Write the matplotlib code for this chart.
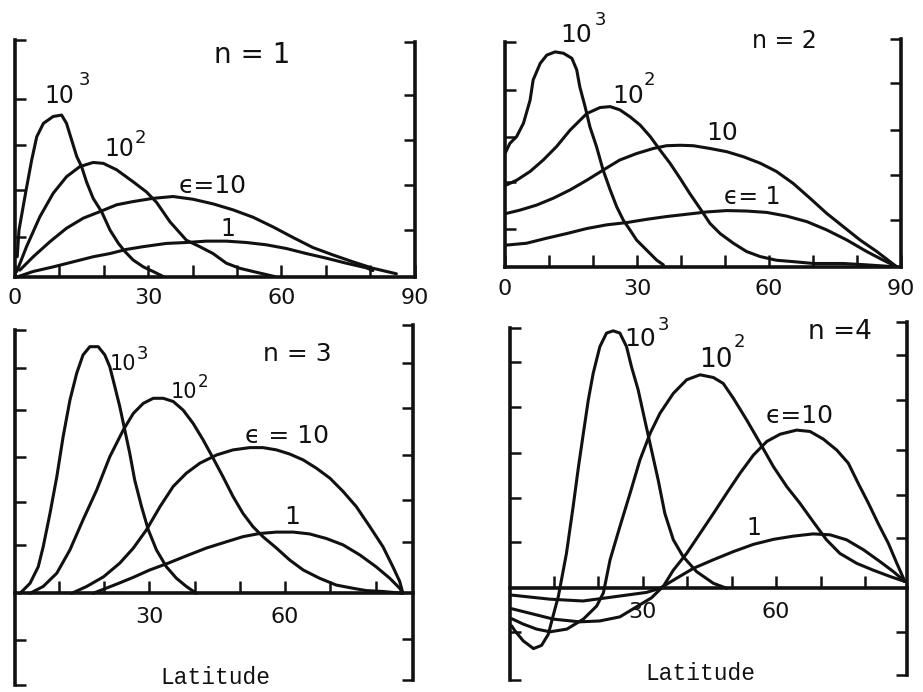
import matplotlib
matplotlib.use("Agg")
import matplotlib.pyplot as plt

plt.rcParams["font.family"] = ["DejaVu Sans"]

W, H, DPI = 923, 692, 100
INK = "#111111"

# ---------------- n = 1 : amplitude vs latitude (deg) ----------------
n1_lat_e1000 = [0.5, 0.9, 2.5, 3.75, 4.9, 6.4, 8.6, 10.5, 11.6, 12.75, 13.9, 15.0, 16.1, 17.6,
                19.5, 21.4, 23.3, 24.8, 26.6, 28.9, 31.1, 33.4]
n1_amp_e1000 = [0.44, 1.02, 1.89, 2.54, 3.05, 3.34, 3.49, 3.52, 3.34, 2.98, 2.62, 2.40, 2.07, 1.71,
                1.42, 1.02, 0.73, 0.55, 0.37, 0.22, 0.12, 0.01]
n1_lat_e100 = [0.4, 2.6, 5.6, 8.6, 11.6, 14.6, 17.6, 19.9, 22.9, 26.6, 29.6, 31.9, 34.9, 38.6,
               41.6, 44.6, 47.6, 50.6, 53.6, 58.5]
n1_amp_e100 = [0.12, 0.66, 1.31, 1.82, 2.18, 2.40, 2.49, 2.47, 2.33, 2.07, 1.85, 1.62, 1.20, 0.80,
               0.66, 0.51, 0.30, 0.19, 0.12, 0.01]
n1_lat_e10 = [1.1, 4.1, 7.9, 11.6, 15.4, 19.1, 22.9, 26.6, 31.1, 35.6, 40.1, 44.6, 49.1, 53.6,
              58.1, 62.6, 67.1, 71.6, 76.1, 80.6, 85.9]
n1_amp_e10 = [0.15, 0.44, 0.77, 1.06, 1.28, 1.42, 1.57, 1.64, 1.71, 1.75, 1.69, 1.59, 1.46, 1.30,
              1.09, 0.86, 0.64, 0.48, 0.33, 0.19, 0.07]
n1_lat_e1 = [0.75, 4.1, 8.6, 13.1, 17.6, 21.4, 25.1, 28.9, 34.1, 38.6, 43.1, 47.6, 52.1, 56.6,
             61.1, 65.6, 70.1, 74.6, 79.1, 80.6]
n1_amp_e1 = [0.01, 0.12, 0.22, 0.33, 0.44, 0.51, 0.60, 0.66, 0.73, 0.75, 0.78, 0.78, 0.75, 0.70,
             0.62, 0.51, 0.41, 0.30, 0.20, 0.14]

# ---------------- n = 2 ----------------
n2_lat_e1000 = [0, 1.1, 2.65, 4.2, 5.7, 6.4, 8.0, 9.5, 11.4, 13.3, 15.2, 16.3, 17.0, 18.2, 19.3,
                20.8, 22.3, 23.9, 25.4, 26.9, 28.4, 29.9, 32.2, 34.5, 36.0]
n2_amp_e1000 = [2.46, 2.68, 2.83, 3.12, 3.62, 4.06, 4.42, 4.60, 4.67, 4.64, 4.53, 4.28, 3.91, 3.48,
                3.04, 2.61, 2.10, 1.67, 1.30, 1.01, 0.80, 0.58, 0.36, 0.14, 0.04]
n2_lat_e100 = [0.4, 2.65, 5.7, 8.7, 11.7, 14.8, 18.6, 21.6, 23.9, 26.1, 28.4, 30.7, 33.0, 35.2,
               37.5, 39.8, 42.0, 44.3, 46.6, 48.9, 51.9, 54.9, 58.0, 61.7, 65.5, 70.1, 76.9,
               82.2, 88.3]
n2_amp_e100 = [1.78, 1.88, 2.07, 2.32, 2.61, 2.97, 3.33, 3.46, 3.48, 3.41, 3.26, 3.08, 2.83, 2.54,
               2.25, 1.92, 1.59, 1.27, 0.94, 0.72, 0.51, 0.33, 0.22, 0.14, 0.11, 0.07, 0.07,
               0.04, 0.0]
n2_lat_e10 = [0.4, 3.4, 7.2, 11.0, 14.8, 18.6, 22.3, 26.1, 29.9, 33.7, 36.7, 39.8, 42.8, 46.6,
              50.4, 54.2, 58.0, 61.7, 65.5, 69.3, 73.1, 76.9, 80.7, 84.5, 87.5, 89.0]
n2_amp_e10 = [1.16, 1.23, 1.34, 1.49, 1.67, 1.88, 2.10, 2.32, 2.46, 2.57, 2.63, 2.64, 2.63, 2.57,
              2.50, 2.39, 2.25, 2.07, 1.81, 1.49, 1.16, 0.87, 0.58, 0.33, 0.11, 0.0]
n2_lat_e1 = [0.4, 4.9, 9.5, 14.0, 18.6, 23.1, 27.7, 32.2, 36.7, 41.3, 45.8, 50.4, 54.9, 59.5,
             64.0, 68.6, 73.1, 77.7, 82.2, 86.0, 89.0]
n2_amp_e1 = [0.47, 0.51, 0.62, 0.72, 0.83, 0.91, 0.96, 1.03, 1.09, 1.14, 1.19, 1.22, 1.21, 1.18,
             1.10, 0.98, 0.80, 0.58, 0.33, 0.14, 0.0]

# ---------------- n = 3 ----------------
n3_lat_e1000 = [1.5, 3.7, 5.5, 6.6, 8.1, 9.6, 11.0, 12.5, 14.0, 15.4, 16.9, 18.75, 20.2, 21.3,
                22.4, 23.5, 24.6, 25.7, 26.8, 28.3, 29.8, 31.6, 33.8, 36.0, 38.2, 40.4]
n3_amp_e1000 = [0.0, 0.22, 0.58, 1.02, 1.75, 2.55, 3.43, 4.23, 4.82, 5.22, 5.40, 5.40, 5.22, 4.96,
                4.53, 4.09, 3.58, 3.07, 2.48, 1.90, 1.39, 0.95, 0.58, 0.33, 0.15, 0.0]
n3_lat_e100 = [3.7, 6.6, 9.6, 12.5, 15.4, 18.4, 21.3, 24.3, 26.5, 28.7, 30.9, 33.1, 35.3, 37.5,
               39.7, 41.9, 44.1, 46.3, 48.5, 50.7, 52.9, 55.1, 58.1, 61.0, 64.0, 67.6, 71.3,
               75.0, 77.9, 81.6, 86.0]
n3_amp_e100 = [0.0, 0.15, 0.44, 0.95, 1.61, 2.26, 2.99, 3.58, 3.94, 4.16, 4.27, 4.27, 4.20, 4.01,
               3.72, 3.36, 2.96, 2.55, 2.12, 1.75, 1.46, 1.24, 0.99, 0.73, 0.51, 0.33, 0.18,
               0.11, 0.06, 0.04, 0.0]
n3_lat_e10 = [12.9, 16.2, 19.9, 23.5, 26.5, 29.4, 32.4, 35.3, 38.2, 41.2, 44.9, 48.5, 52.2, 55.1,
              58.1, 61.0, 64.0, 66.9, 69.9, 72.8, 75.7, 78.7, 81.6, 83.8, 85.3, 86.0]
n3_amp_e10 = [0.0, 0.15, 0.36, 0.66, 0.99, 1.39, 1.90, 2.34, 2.63, 2.85, 3.03, 3.14, 3.19, 3.19,
              3.14, 3.05, 2.92, 2.74, 2.52, 2.23, 1.90, 1.46, 1.02, 0.58, 0.26, 0.0]
n3_lat_e1 = [17.6, 22.8, 26.5, 30.1, 34.2, 38.2, 42.6, 47.1, 50.7, 54.4, 58.1, 61.8, 65.4, 69.1,
             72.8, 76.5, 80.1, 83.1, 85.3, 86.0]
n3_amp_e1 = [0.0, 0.20, 0.35, 0.51, 0.66, 0.82, 0.99, 1.13, 1.24, 1.31, 1.34, 1.34, 1.30, 1.20,
             1.06, 0.84, 0.58, 0.33, 0.11, 0.0]

# ---------------- n = 4 ----------------
n4_lat_e1000 = [0.6, 1.35, 3.2, 5.5, 7.3, 8.8, 9.9, 11.1, 11.5, 12.9, 14.4, 15.6, 16.7, 17.8,
                18.9, 20.4, 21.9, 23.4, 24.9, 26.4, 27.5, 29.0, 30.5, 32.0, 33.5, 35.0, 36.9,
                39.1, 42.1, 45.9, 48.9]
n4_amp_e1000 = [-0.83, -0.94, -1.16, -1.33, -1.26, -1.02, -0.61, -0.17, 0.04, 0.77, 1.80, 2.68,
                3.42, 4.15, 4.74, 5.33, 5.63, 5.68, 5.63, 5.33, 4.89, 4.38, 3.71, 3.05, 2.39,
                1.65, 1.07, 0.70, 0.37, 0.11, 0.0]
n4_lat_e100 = [0.6, 3.2, 6.2, 9.2, 13.0, 16.7, 19.7, 21.2, 22.7, 24.9, 27.2, 29.4, 31.7, 33.9,
               36.9, 39.9, 42.9, 45.9, 48.1, 50.4, 53.4, 56.4, 59.4, 62.4, 65.3, 68.3, 71.3,
               74.3, 78.1, 81.8, 85.6, 88.9]
n4_amp_e100 = [-0.67, -0.79, -0.90, -0.96, -0.90, -0.68, -0.39, -0.10, 0.63, 1.36, 2.10, 2.83,
               3.42, 3.86, 4.30, 4.60, 4.71, 4.65, 4.52, 4.19, 3.71, 3.20, 2.68, 2.24, 1.88,
               1.47, 1.07, 0.77, 0.55, 0.40, 0.26, 0.15]
n4_lat_e10 = [0.6, 5.5, 9.95, 15.9, 20.4, 24.9, 32.0, 34.7, 36.9, 39.9, 42.9, 45.9, 48.9, 51.9,
              54.9, 57.9, 60.9, 64.6, 67.6, 70.6, 73.6, 76.2, 78.4, 80.7, 82.9, 85.2, 87.1, 88.9]
n4_amp_e10 = [-0.45, -0.57, -0.68, -0.74, -0.72, -0.63, -0.21, 0.05, 0.40, 0.77, 1.21, 1.65,
              2.10, 2.54, 2.94, 3.24, 3.40, 3.49, 3.46, 3.29, 3.05, 2.76, 2.32, 1.88, 1.43,
              0.99, 0.55, 0.15]
n4_lat_e1 = [0.6, 9.2, 16.6, 20.4, 30.9, 33.9, 37.6, 41.4, 45.9, 50.4, 54.9, 59.4, 63.8, 68.3,
             72.1, 75.8, 79.6, 83.3, 86.3, 88.9]
n4_amp_e1 = [-0.15, -0.24, -0.28, -0.23, -0.09, 0.0, 0.22, 0.44, 0.63, 0.81, 0.97, 1.08, 1.15,
             1.20, 1.18, 1.07, 0.85, 0.59, 0.37, 0.15]

fig = plt.figure(figsize=(W / DPI, H / DPI), dpi=DPI)
fig.patch.set_facecolor("white")


def panel(box, x0, dpx, zero, unit, left_span, right_span, left_ticks, right_ticks,
          major, minor, zero_axis, label_pad):
    """One hand-ruled frame: box is (left, right, top, bottom) in figure pixels."""
    l, r, t, b = box
    ax = fig.add_axes([l / W, 1 - b / H, (r - l) / W, (b - t) / H])
    ax.set_xlim((l - x0) / dpx, (r - x0) / dpx)
    ax.set_ylim((zero - b) / unit, (zero - t) / unit)
    ax.patch.set_visible(False)
    ax.spines["top"].set_visible(False)
    ax.spines["right"].set_visible(False)
    for s in ("left", "bottom"):
        ax.spines[s].set_linewidth(2.6)
        ax.spines[s].set_color(INK)
        ax.spines[s].set_capstyle("projecting")
    ax.spines["left"].set_bounds(*left_span)
    if zero_axis:
        ax.spines["bottom"].set_position(("data", 0))
    ax.set_yticks(left_ticks)
    ax.set_yticklabels([])
    ax.tick_params(axis="y", which="both", direction="in", length=8, width=1.8,
                   color=INK, left=True, right=False)
    ax.set_xticks(major)
    ax.set_xticks(minor, minor=True)
    ax.tick_params(axis="x", which="both", direction="in", length=9, width=1.8,
                   color=INK, pad=label_pad, labelsize=16, labelcolor=INK)

    ax2 = ax.twinx()
    ax2.set_ylim(ax.get_ylim())
    for s in ("left", "top", "bottom"):
        ax2.spines[s].set_visible(False)
    ax2.spines["right"].set_linewidth(2.6)
    ax2.spines["right"].set_color(INK)
    ax2.spines["right"].set_capstyle("projecting")
    ax2.spines["right"].set_bounds(*right_span)
    ax2.set_yticks(right_ticks)
    ax2.set_yticklabels([])
    ax2.tick_params(axis="y", direction="in", length=8, width=1.8, color=INK)
    return ax


def curves(ax, pairs):
    for lat, amp in pairs:
        ax.plot(lat, amp, color=INK, lw=2.2, solid_joinstyle="round",
                solid_capstyle="round", zorder=2)


def labels(ax, items):
    for s, x, y, size in items:
        ax.text(x, y, s, ha="center", va="center", fontsize=size, color=INK, zorder=4)


minor_x = [10, 20, 40, 50, 70, 80]

# n = 1
ax1 = panel((15, 415, 38, 277), 15, 4.44, 277, 46,
            (0, 5.15), (0, 5.11),
            [0.88, 1.89, 2.87, 3.88, 5.15], [1.02, 2.0, 2.98, 3.96, 5.11],
            [0, 30, 60, 90], minor_x, False, 8)
curves(ax1, [(n1_lat_e1000, n1_amp_e1000), (n1_lat_e100, n1_amp_e100),
             (n1_lat_e10, n1_amp_e10), (n1_lat_e1, n1_amp_e1)])
labels(ax1, [("n = 1", 53.4, 4.83, 20), ("10", 9.9, 3.93, 17), ("3", 15.6, 4.28, 13),
             ("10", 23.4, 2.78, 17), ("2", 28.2, 3.02, 13),
             ("ϵ=10", 44.4, 1.98, 18), ("1", 48.0, 1.04, 17)])

# n = 2
ax2 = panel((505, 901, 38, 266.7), 505, 4.40, 266.7, 46,
            (0, 4.89), (0, 4.94),
            [0.83, 1.85, 2.83, 3.84, 4.89], [1.01, 1.99, 2.97, 3.99, 4.94],
            [0, 30, 60, 90], minor_x, False, 9)
curves(ax2, [(n2_lat_e1000, n2_amp_e1000), (n2_lat_e100, n2_amp_e100),
             (n2_lat_e10, n2_amp_e10), (n2_lat_e1, n2_amp_e1)])
labels(ax2, [("n = 2", 63.6, 4.91, 17), ("10", 16.1, 5.04, 18), ("3", 21.6, 5.36, 13),
             ("10", 28.0, 3.71, 18), ("2", 32.8, 4.06, 13),
             ("10", 49.3, 2.90, 18), ("ϵ= 1", 56.1, 1.51, 17)])

# n = 3
ax3 = panel((15, 413, 323, 687), 13.3, 4.53, 593.3, 45.67,
            (-2.01, 5.77), (-1.90, 5.88),
            [-2.01, -1.02, 1.06, 2.0, 2.99, 4.01, 4.93, 5.77],
            [-1.90, -0.99, 1.13, 2.04, 3.03, 4.05, 5.04, 5.88],
            [30, 60], minor_x, True, 10)
curves(ax3, [(n3_lat_e1000, n3_amp_e1000), (n3_lat_e100, n3_amp_e100),
             (n3_lat_e10, n3_amp_e10), (n3_lat_e1, n3_amp_e1)])
labels(ax3, [("n = 3", 62.7, 5.24, 18), ("10", 24.2, 5.01, 15), ("3", 28.6, 5.25, 13),
             ("10", 37.7, 4.40, 15), ("2", 41.9, 4.63, 12),
             ("ϵ = 10", 60.5, 3.45, 18), ("1", 61.5, 1.67, 18)])
ax3.text(44.5, -1.85, "Latitude", ha="center", va="center", fontsize=16.5,
         family="Liberation Mono", color=INK)

# n = 4
ax4 = panel((510, 907, 320, 683), 509, 4.453, 588.3, 45.33,
            (-2.02, 5.74), (-1.91, 5.88),
            [-2.02, -0.96, 1.03, 1.99, 2.98, 4.01, 5.0, 5.74],
            [-1.91, -0.96, 1.10, 2.06, 3.05, 4.15, 5.15, 5.88],
            [30, 60], minor_x, True, 10)
curves(ax4, [(n4_lat_e1000, n4_amp_e1000), (n4_lat_e100, n4_amp_e100),
             (n4_lat_e10, n4_amp_e10), (n4_lat_e1, n4_amp_e1)])
for lab in ax4.get_xticklabels():
    lab.set_bbox(dict(facecolor="white", edgecolor="none", pad=1.0))
labels(ax4, [("n =4", 74.3, 5.65, 19), ("10", 29.4, 5.51, 18), ("3", 34.6, 5.81, 13),
             ("10", 46.5, 5.04, 19), ("2", 51.7, 5.43, 13),
             ("ϵ=10", 65.3, 3.80, 18), ("1", 55.0, 1.32, 17)])
ax4.text(42.9, -1.89, "Latitude", ha="center", va="center", fontsize=16.5,
         family="Liberation Mono", color=INK)

fig.savefig("out.png", dpi=DPI, facecolor="white")
